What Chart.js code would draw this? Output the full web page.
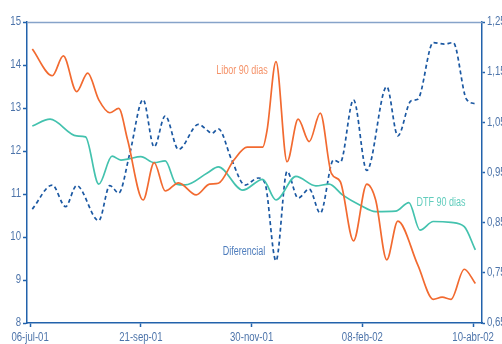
<!DOCTYPE html>
<html>
<head>
<meta charset="utf-8">
<script src="https://cdn.jsdelivr.net/npm/chart.js@4/dist/chart.umd.min.js"></script>
<style>
  html, body { margin: 0; padding: 0; background: #ffffff; }
  #wrap { width: 502px; height: 344px; }
</style>
</head>
<body>
<div id="wrap"><canvas id="c" width="502" height="344"></canvas></div>
<script>
// Date tick labels and their positions (trading-day index)
const dateLabels = ['06-jul-01', '21-sep-01', '30-nov-01', '08-feb-02', '10-abr-02'];
const dateTickPos = [0, 50, 100, 150, 200];
const leftTicks = [8, 9, 10, 11, 12, 13, 14, 15];
const rightTicks = [0.65, 0.75, 0.85, 0.95, 1.05, 1.15, 1.25];

// Libor 90 días (left axis, %)
const liborX = [1, 10, 15, 21, 26, 31, 36, 40, 44, 51, 56, 61, 67, 75, 81, 85, 92, 98, 105, 107, 111, 116, 121, 126, 131, 136, 140, 146, 152, 156, 161, 166, 175, 182, 186, 190, 196, 201];
const liborY = [14.37, 13.75, 14.21, 13.38, 13.81, 13.19, 12.89, 12.99, 12.26, 10.86, 11.73, 11.07, 11.26, 10.98, 11.23, 11.25, 11.79, 12.09, 12.09, 12.49, 14.08, 11.75, 12.74, 12.22, 12.88, 11.48, 11.29, 9.91, 11.23, 10.86, 9.47, 10.37, 9.35, 8.55, 8.60, 8.55, 9.25, 8.92];

// DTF 90 días (left axis, %)
const dtfX = [1, 9, 21, 25, 31, 37, 41, 44, 50, 56, 61, 66, 70, 80, 85, 96, 105, 111, 120, 129, 135, 141, 149, 156, 165, 171, 176, 182, 190, 196, 201];
const dtfY = [12.58, 12.74, 12.35, 12.33, 11.23, 11.88, 11.79, 11.81, 11.87, 11.73, 11.77, 11.23, 11.21, 11.49, 11.63, 11.09, 11.34, 10.86, 11.41, 11.19, 11.23, 10.98, 10.74, 10.59, 10.60, 10.80, 10.16, 10.36, 10.34, 10.24, 9.70];

// Diferencial (right axis)
const difX = [1, 10, 16, 21, 31, 36, 40, 45, 51, 56, 61, 67, 76, 80, 82, 85, 91, 97, 103, 106, 111, 116, 121, 126, 131, 137, 140, 146, 152, 161, 166, 172, 175, 182, 187, 191, 197, 201];
const difY = [0.877, 0.925, 0.882, 0.924, 0.854, 0.924, 0.909, 0.988, 1.095, 1.001, 1.063, 0.996, 1.046, 1.034, 1.028, 1.037, 0.975, 0.925, 0.939, 0.929, 0.774, 0.952, 0.899, 0.917, 0.869, 0.975, 0.970, 1.095, 0.954, 1.121, 1.023, 1.093, 1.096, 1.209, 1.206, 1.209, 1.096, 1.087];

const toPoints = (xs, ys) => xs.map((x, i) => ({ x: x, y: ys[i] }));

const FONT = "'Liberation Sans', Arial, sans-serif";
const AXIS = '#2262ab';
const TICKTXT = '#4d74aa';
const NARROW = 0.8;      // horizontal squeeze for the condensed lettering

// In-plot series names, anchored in data units
const seriesNotes = [
  { text: 'Libor 90 dias', x: 95.7, y: 13.86, color: '#f5936a' },
  { text: 'DTF 90 dias', x: 185.5, y: 10.79, color: '#62cdbd' },
  { text: 'Diferencial', x: 96.6, y: 9.67, color: '#4d7cbc' }
];

// Writes condensed text; align is 'left' | 'center' | 'right'
function narrowText(ctx, text, x, y, align, squeeze) {
  ctx.save();
  ctx.translate(x, y);
  ctx.scale(squeeze, 1);
  ctx.textAlign = align;
  ctx.textBaseline = 'middle';
  ctx.fillText(text, 0, 0);
  ctx.restore();
}

const frameAndText = {
  id: 'frameAndText',
  afterDatasetsDraw(chart) {
    const { ctx, chartArea: a, scales } = chart;
    ctx.save();
    // top edge of the plot frame
    ctx.strokeStyle = '#86a3c9';
    ctx.lineWidth = 1.5;
    ctx.beginPath();
    ctx.moveTo(a.left, a.top + 0.5);
    ctx.lineTo(a.right, a.top + 0.5);
    ctx.stroke();

    // axis labels
    ctx.font = '12px ' + FONT;
    ctx.fillStyle = TICKTXT;
    dateTickPos.forEach((v, i) => {
      narrowText(ctx, dateLabels[i], scales.x.getPixelForValue(v), a.bottom + 15, 'center', NARROW);
    });
    leftTicks.forEach(v => {
      narrowText(ctx, String(v), a.left - 6, scales.y.getPixelForValue(v), 'right', NARROW);
    });
    rightTicks.forEach(v => {
      narrowText(ctx, v.toFixed(2).replace('.', ','), a.right + 5, scales.y2.getPixelForValue(v), 'left', NARROW);
    });

    // series names
    ctx.font = '12px ' + FONT;
    seriesNotes.forEach(n => {
      ctx.fillStyle = n.color;
      narrowText(ctx, n.text, scales.x.getPixelForValue(n.x), scales.y.getPixelForValue(n.y), 'center', 0.75);
    });
    ctx.restore();
  }
};

const lineStyle = { pointRadius: 0, borderWidth: 1.7, fill: false, cubicInterpolationMode: 'monotone' };

new Chart(document.getElementById('c'), {
  type: 'line',
  data: {
    datasets: [
      Object.assign({ label: 'Libor 90 dias', data: toPoints(liborX, liborY), borderColor: '#f26a30', yAxisID: 'y' }, lineStyle),
      Object.assign({ label: 'DTF 90 dias', data: toPoints(dtfX, dtfY), borderColor: '#43c2ae', yAxisID: 'y' }, lineStyle),
      Object.assign({ label: 'Diferencial', data: toPoints(difX, difY), borderColor: '#1b58a2', borderDash: [4, 3], yAxisID: 'y2' }, lineStyle)
    ]
  },
  options: {
    responsive: false,
    animation: false,
    layout: { padding: { top: 22, left: 0, right: 0, bottom: 0 } },
    plugins: { legend: { display: false }, tooltip: { enabled: false } },
    scales: {
      x: {
        type: 'linear',
        min: -1.4,
        max: 204,
        afterBuildTicks: s => { s.ticks = dateTickPos.map(v => ({ value: v })); },
        afterFit: s => { s.height = 21; },
        ticks: { display: false, autoSkip: false },
        grid: { drawOnChartArea: false, drawTicks: true, tickLength: 4, tickColor: AXIS, tickWidth: 1.5 },
        border: { display: true, color: AXIS, width: 1.5 }
      },
      y: {
        position: 'left',
        min: 8,
        max: 15,
        afterBuildTicks: s => { s.ticks = leftTicks.map(v => ({ value: v })); },
        afterFit: s => { s.width = 27; },
        ticks: { display: false },
        grid: { drawOnChartArea: false, drawTicks: true, tickLength: 4, tickColor: AXIS, tickWidth: 1.5 },
        border: { display: true, color: AXIS, width: 1.5 }
      },
      y2: {
        position: 'right',
        min: 0.65,
        max: 1.25,
        afterBuildTicks: s => { s.ticks = rightTicks.map(v => ({ value: v })); },
        afterFit: s => { s.width = 20; },
        ticks: { display: false },
        grid: { drawOnChartArea: false, drawTicks: true, tickLength: 3, tickColor: AXIS, tickWidth: 1.5 },
        border: { display: true, color: AXIS, width: 1.5 }
      }
    }
  },
  plugins: [frameAndText]
});
</script>
</body>
</html>
